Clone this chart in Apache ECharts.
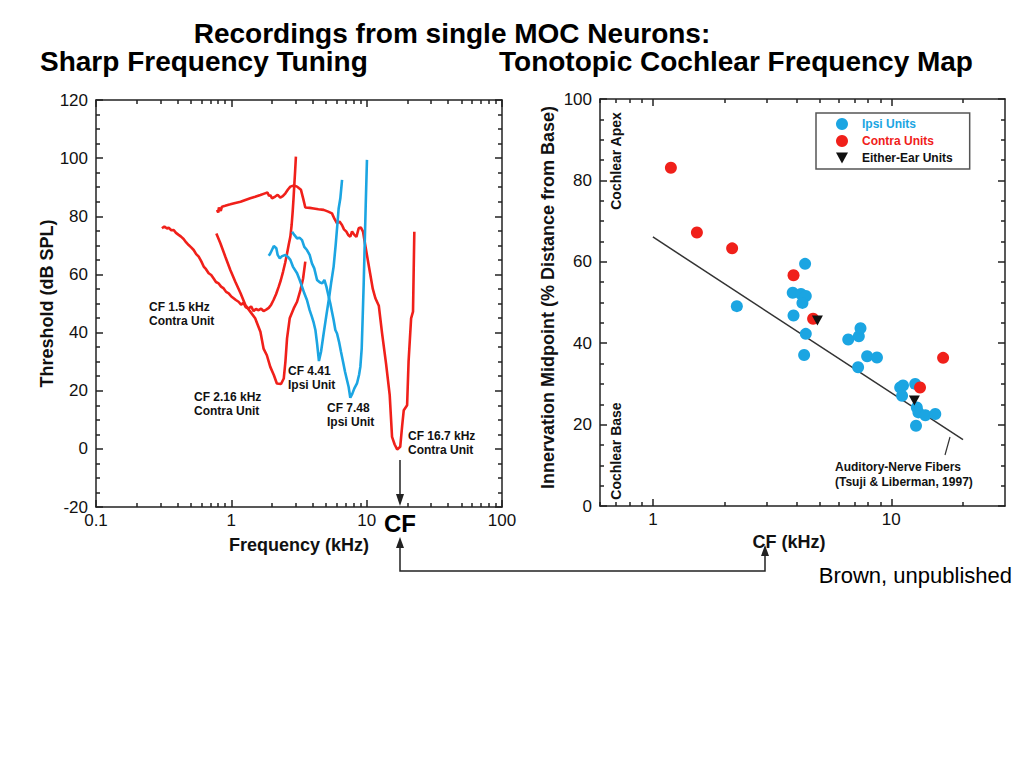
<!DOCTYPE html>
<html><head><meta charset="utf-8">
<script src="https://cdn.jsdelivr.net/npm/echarts@6/dist/echarts.min.js"></script>
<style>html,body{margin:0;padding:0;background:#fff}#c{width:1024px;height:768px}</style>
</head><body><div id="c"></div>
<script>
// ---------- Left panel: tuning curves (frequency kHz, threshold dB SPL) ----------
const cf15Freq = [0.307,0.32,0.335,0.344,0.36,0.375,0.39,0.408,0.425,0.444,0.464,0.484,0.505,0.527,0.55,0.574,0.60,0.625,0.65,0.680,0.71,0.740,0.77,0.806,0.84,0.878,0.915,0.956,1.0,1.04,1.08,1.13,1.18,1.23,1.28,1.34,1.40,1.46,1.52,1.59,1.66,1.73,1.81,1.89,1.97,2.05,2.14,2.24,2.32,2.41,2.50,2.58,2.66,2.73,2.79,2.84,2.88,2.92,2.96,3.00];
const cf15Thr  = [75.9,76.5,75.8,76.1,75.2,75.3,74.3,73.6,73.0,72.2,71.0,70.1,69.3,68.4,67.0,66.1,64.5,62.7,61.8,60.4,59.8,58.6,57.4,56.9,55.8,55.2,54.0,53.5,52.4,51.8,51.2,50.6,49.6,50.2,48.7,48.3,49.0,47.4,48.1,47.7,48.2,47.4,47.9,48.5,49.6,51.2,53.2,55.8,58.0,60.9,64.0,67.2,70.5,73.0,77.0,81.6,86.0,90.8,95.5,100.5];

const cf216Freq = [0.775,0.830,0.903,0.983,1.07,1.17,1.27,1.38,1.50,1.64,1.73,1.83,1.94,2.06,2.17,2.33,2.44,2.51,2.58,2.70,2.89,3.06,3.24,3.39,3.52];
const cf216Thr  = [74.1,70.7,66.1,61.5,57.5,53.5,49.5,47.2,44.9,40.3,34.5,32.2,28.2,25.4,22.5,22.3,24.2,30.0,38.0,44.9,48.3,50.6,54.6,58.6,64.4];

const cf441Freq = [1.89,1.94,2.06,2.15,2.20,2.28,2.37,2.51,2.61,2.73,2.85,3.06,3.20,3.33,3.46,3.62,3.79,3.94,4.06,4.18,4.30,4.44,4.60,4.81,5.04,5.27,5.48,5.70,5.90,6.07,6.21,6.39,6.58];
const cf441Thr  = [66.4,67.2,69.8,69.0,66.7,65.5,66.3,66.7,66.1,65.0,62.7,60.4,58.1,55.8,53.5,51.2,47.7,45.4,43.4,40.9,36.3,30.2,33.4,39.7,46.0,51.8,57.5,62.7,70.1,77.0,82.7,86.2,92.5];

const cf748Freq = [2.81,2.92,3.06,3.20,3.33,3.46,3.62,3.79,3.94,4.10,4.30,4.50,4.70,4.87,5.04,5.24,5.39,5.54,5.70,5.87,6.04,6.25,6.46,6.69,6.92,7.16,7.36,7.57,7.84,8.11,8.48,8.78,8.98,9.19,9.34,9.50,9.67,9.84,10.05];
const cf748Thr  = [74.7,73.6,72.4,72.6,71.8,69.5,68.4,66.7,63.8,62.1,58.1,57.3,56.9,58.1,55.8,52.3,50.0,47.2,44.3,40.9,39.7,36.8,33.4,30.0,26.5,23.6,21.3,17.6,19.0,20.8,22.5,25.4,28.2,34.5,44.9,56.3,70.1,83.9,99.4];

const cf167Freq = [0.784,0.80,0.81,0.820,0.835,0.853,0.90,0.983,1.07,1.17,1.27,1.38,1.50,1.64,1.75,1.85,1.90,1.94,2.0,2.11,2.20,2.30,2.40,2.51,2.62,2.73,2.9,3.06,3.15,3.27,3.40,3.52,3.8,4.06,4.4,4.81,5.2,5.54,5.8,6.04,6.3,6.57,6.8,7.08,7.3,7.57,7.8,8.11,8.4,8.73,9.05,9.40,9.95,10.6,11.1,11.6,12.3,13.0,13.9,14.8,15.4,16.1,16.8,17.7,18.3,18.8,19.9,20.4,21.3,22.0,22.5];
const cf167Thr  = [82.2,81.3,83.0,82.5,81.9,83.3,83.6,84.1,84.6,85.0,85.6,86.2,86.7,87.3,87.8,88.2,87.0,87.3,86.2,86.8,87.4,86.4,86.9,87.9,89.2,90.2,90.6,90.2,89.7,89.1,86.0,83.0,82.9,82.7,82.4,82.2,81.6,81.0,79.0,77.6,78.2,77.0,75.5,74.7,73.6,73.0,74.8,73.6,72.9,75.9,76.2,74.7,67.8,60.4,55.0,51.8,49.2,39.7,29.4,18.5,4.1,1.5,-0.2,0.7,8.0,13.3,15.0,30.0,44.9,47.2,74.7];

const leftXTicks = [0.1, 1, 10, 100];
const leftYTicks = [-20, 0, 20, 40, 60, 80, 100, 120];

// ---------- Right panel: CF (kHz) vs innervation midpoint (%) ----------
const ipsiCF   = [2.25,3.86,4.18,4.38,4.24,4.35,3.89,4.38,4.31,6.60,7.31,7.43,7.26,7.92,8.71,10.9,11.2,11.1,12.6,12.8,13.0,13.9,15.3,12.7];
const ipsiMid  = [49.1,52.4,52.1,51.6,49.9,59.5,46.8,42.3,37.1,40.9,41.7,43.7,34.1,36.8,36.5,29.1,29.6,27.1,30.0,24.2,23.0,22.3,22.6,19.7];
const contraCF  = [1.19,1.53,2.15,3.89,4.70,13.2,16.5];
const contraMid = [83.1,67.2,63.3,56.7,46.0,29.1,36.4];
const eitherCF  = [4.90,12.5];
const eitherMid = [45.6,25.9];
const anfCF  = [1, 20];
const anfMid = [66.1, 16.3];
const rightXTicks = [1, 10];
const rightXRange = [0.6, 30];

// ---------- build ----------
const FONT = '"Liberation Sans", Arial, Helvetica, sans-serif';
const RED = '#f0201a', BLUE = '#1ba5e2', INK = '#222';
const L = Math.log10;
const pts = (xs, ys) => xs.map((x, i) => [L(x), ys[i]]);
function minorLogs(lo, hi) {
  const out = [];
  for (let d = Math.floor(L(lo)); d <= Math.ceil(L(hi)); d++) {
    for (let k = 2; k <= 9; k++) { const v = k * Math.pow(10, d); if (v > lo && v < hi) out.push(L(v)); }
  }
  return out;
}
const fmtLog = v => { const p = Math.pow(10, v); return p < 1 ? p.toFixed(1) : String(Math.round(p)); };
const lineS = { color: INK, width: 1.5 };

function xAxes(grid, lo, hi, majors, withName) {
  const min = L(lo), max = L(hi);
  const majorVals = majors.map(L);
  const base = { type: 'value', gridIndex: grid, min, max, splitLine: { show: false } };
  return [
    Object.assign({}, base, {
      position: 'bottom',
      axisLine: { show: true, onZero: false, lineStyle: lineS },
      axisTick: { show: true, inside: true, length: 7, lineStyle: lineS, customValues: majorVals },
      axisLabel: { customValues: majorVals, formatter: fmtLog, fontSize: 17, color: '#111', fontFamily: FONT, margin: 5 },
      name: withName.name, nameLocation: 'middle', nameGap: withName.gap,
      nameTextStyle: { fontSize: 18, fontWeight: 'bold', color: '#111', fontFamily: FONT, padding: withName.pad || 0 }
    }),
    Object.assign({}, base, {
      position: 'bottom', axisLine: { show: false, onZero: false }, axisLabel: { show: false },
      axisTick: { show: true, inside: true, length: 4, lineStyle: lineS, customValues: minorLogs(lo, hi) }
    }),
    Object.assign({}, base, {
      position: 'top', axisLine: { show: true, onZero: false, lineStyle: lineS }, axisLabel: { show: false },
      axisTick: { show: true, inside: true, length: 7, lineStyle: lineS, customValues: majorVals }
    }),
    Object.assign({}, base, {
      position: 'top', axisLine: { show: false, onZero: false }, axisLabel: { show: false },
      axisTick: { show: true, inside: true, length: 4, lineStyle: lineS, customValues: minorLogs(lo, hi) }
    })
  ];
}
function yAxes(grid, min, max, nm) {
  const base = { type: 'value', gridIndex: grid, min, max, interval: 20, splitLine: { show: false },
    axisLine: { show: true, onZero: false, lineStyle: lineS },
    axisTick: { show: true, inside: true, length: 7, lineStyle: lineS },
    minorTick: { show: true, splitNumber: 4, length: 4, lineStyle: lineS } };
  return [
    Object.assign({}, base, { position: 'left',
      axisLabel: { fontSize: 17, color: '#111', fontFamily: FONT, margin: 8 },
      name: nm.name, nameLocation: 'middle', nameGap: nm.gap,
      nameTextStyle: { fontSize: 18, fontWeight: 'bold', color: '#111', fontFamily: FONT, padding: nm.pad || 0 } }),
    Object.assign({}, base, { position: 'right', axisLabel: { show: false } })
  ];
}

const xAxis = [].concat(
  xAxes(0, leftXTicks[0], leftXTicks[3], leftXTicks, { name: 'Frequency (kHz)', gap: 29 }),
  xAxes(1, rightXRange[0], rightXRange[1], rightXTicks, { name: 'CF (kHz)', gap: 21, pad: [0, 27, 0, 0] })
);
const yAxis = [].concat(
  yAxes(0, leftYTicks[0], leftYTicks[leftYTicks.length - 1], { name: 'Threshold (dB SPL)', gap: 40 }),
  yAxes(1, 0, 100, { name: 'Innervation Midpoint (% Distance from Base)', gap: 43, pad: [0, 0, 0, 10] })
);

const tuning = (name, xs, ys, color) => ({
  type: 'line', name, xAxisIndex: 0, yAxisIndex: 0, data: pts(xs, ys), showSymbol: false,
  lineStyle: { color, width: 2.6 }, itemStyle: { color }, silent: true
});

const series = [
  tuning('CF 1.5 kHz Contra Unit', cf15Freq, cf15Thr, RED),
  tuning('CF 2.16 kHz Contra Unit', cf216Freq, cf216Thr, RED),
  tuning('CF 16.7 kHz Contra Unit', cf167Freq, cf167Thr, RED),
  tuning('CF 4.41 Ipsi Unit', cf441Freq, cf441Thr, BLUE),
  tuning('CF 7.48 Ipsi Unit', cf748Freq, cf748Thr, BLUE),
  { type: 'line', name: 'Auditory-Nerve Fibers', xAxisIndex: 4, yAxisIndex: 2, data: pts(anfCF, anfMid),
    showSymbol: false, lineStyle: { color: '#333', width: 1.5 }, silent: true, z: 1 },
  { type: 'scatter', name: 'Ipsi Units', xAxisIndex: 4, yAxisIndex: 2, data: pts(ipsiCF, ipsiMid),
    symbol: 'circle', symbolSize: 12, itemStyle: { color: BLUE, opacity: 1 }, z: 2 },
  { type: 'scatter', name: 'Contra Units', xAxisIndex: 4, yAxisIndex: 2, data: pts(contraCF, contraMid),
    symbol: 'circle', symbolSize: 12, itemStyle: { color: RED, opacity: 1 }, z: 3 },
  { type: 'scatter', name: 'Either-Ear Units', xAxisIndex: 4, yAxisIndex: 2, data: pts(eitherCF, eitherMid),
    symbol: 'triangle', symbolRotate: 180, symbolSize: [11, 10], itemStyle: { color: '#111', opacity: 1 }, z: 4 }
];

const txt = (text, x, y, font, extra) => ({ type: 'text', x, y, z: 100, silent: true,
  style: Object.assign({ text, font, fill: '#111', align: 'left', verticalAlign: 'top' }, extra || {}) });
const small = 'bold 12px ' + FONT;

const graphic = [
  txt('Recordings from single MOC Neurons:', 452, 33, 'bold 28px ' + FONT, { align: 'center', verticalAlign: 'middle', fill: '#000' }),
  txt('Sharp Frequency Tuning', 40, 61, 'bold 28px ' + FONT, { verticalAlign: 'middle', fill: '#000' }),
  txt('Tonotopic Cochlear Frequency Map', 499, 61, 'bold 28px ' + FONT, { verticalAlign: 'middle', fill: '#000' }),
  txt('CF 1.5 kHz\nContra Unit', 149, 300, small, { lineHeight: 14 }),
  txt('CF 2.16 kHz\nContra Unit', 194, 390, small, { lineHeight: 14 }),
  txt('CF 4.41\nIpsi Unit', 288, 364, small, { lineHeight: 14 }),
  txt('CF 7.48\nIpsi Unit', 327, 401, small, { lineHeight: 14 }),
  txt('CF 16.7 kHz\nContra Unit', 408, 429, small, { lineHeight: 14 }),
  txt('CF', 400, 523, 'bold 24px ' + FONT, { align: 'center', verticalAlign: 'middle', fill: '#000' }),
  txt('Auditory-Nerve Fibers\n(Tsuji & Liberman, 1997)', 835, 459, small, { lineHeight: 15 }),
  { type: 'text', x: 616, y: 161, rotation: Math.PI / 2, z: 100, silent: true,
    style: { text: 'Cochlear Apex', font: 'bold 14px ' + FONT, fill: '#111', align: 'center', verticalAlign: 'middle' } },
  { type: 'text', x: 616, y: 451, rotation: Math.PI / 2, z: 100, silent: true,
    style: { text: 'Cochlear Base', font: 'bold 14px ' + FONT, fill: '#111', align: 'center', verticalAlign: 'middle' } },
  { type: 'line', z: 100, silent: true, shape: { x1: 945, y1: 455, x2: 950, y2: 437 }, style: { stroke: '#333', lineWidth: 1.2 } },
  // arrows linking CF
  { type: 'line', z: 100, silent: true, shape: { x1: 400, y1: 460, x2: 400, y2: 498 }, style: { stroke: INK, lineWidth: 1.5 } },
  { type: 'polygon', z: 100, silent: true, shape: { points: [[396, 494], [404, 494], [400, 506]] }, style: { fill: INK } },
  { type: 'polyline', z: 100, silent: true, shape: { points: [[400, 545], [400, 571], [765, 571], [765, 553]] }, style: { stroke: INK, lineWidth: 1.5, fill: null } },
  { type: 'polygon', z: 100, silent: true, shape: { points: [[396, 548], [404, 548], [400, 537]] }, style: { fill: INK } },
  { type: 'polygon', z: 100, silent: true, shape: { points: [[761, 556], [769, 556], [765, 545]] }, style: { fill: INK } },
  txt('Brown, unpublished', 1012, 575, '22px ' + FONT, { align: 'right', verticalAlign: 'middle', fill: '#000' })
];

const option = {
  animation: false,
  backgroundColor: '#fff',
  textStyle: { fontFamily: FONT },
  grid: [
    { left: 96, top: 100, width: 406, height: 407 },
    { left: 600, top: 99, width: 405, height: 407 }
  ],
  xAxis, yAxis, series, graphic,
  legend: {
    orient: 'vertical', left: 816, top: 113, itemGap: 5, itemWidth: 12, itemHeight: 12,
    padding: [5, 17, 5, 20], borderColor: '#555', borderWidth: 1.5,
    textStyle: { fontSize: 12, fontWeight: 'bold', fontFamily: FONT, padding: [0, 0, 0, 9] },
    data: [
      { name: 'Ipsi Units', icon: 'circle', textStyle: { color: BLUE } },
      { name: 'Contra Units', icon: 'circle', textStyle: { color: RED } },
      { name: 'Either-Ear Units', icon: 'path://M0,0L10,0L5,9Z', textStyle: { color: '#111' } }
    ]
  }
};
const chart = echarts.init(document.getElementById('c'), null, { renderer: 'svg' });
chart.setOption(option);
</script></body></html>
